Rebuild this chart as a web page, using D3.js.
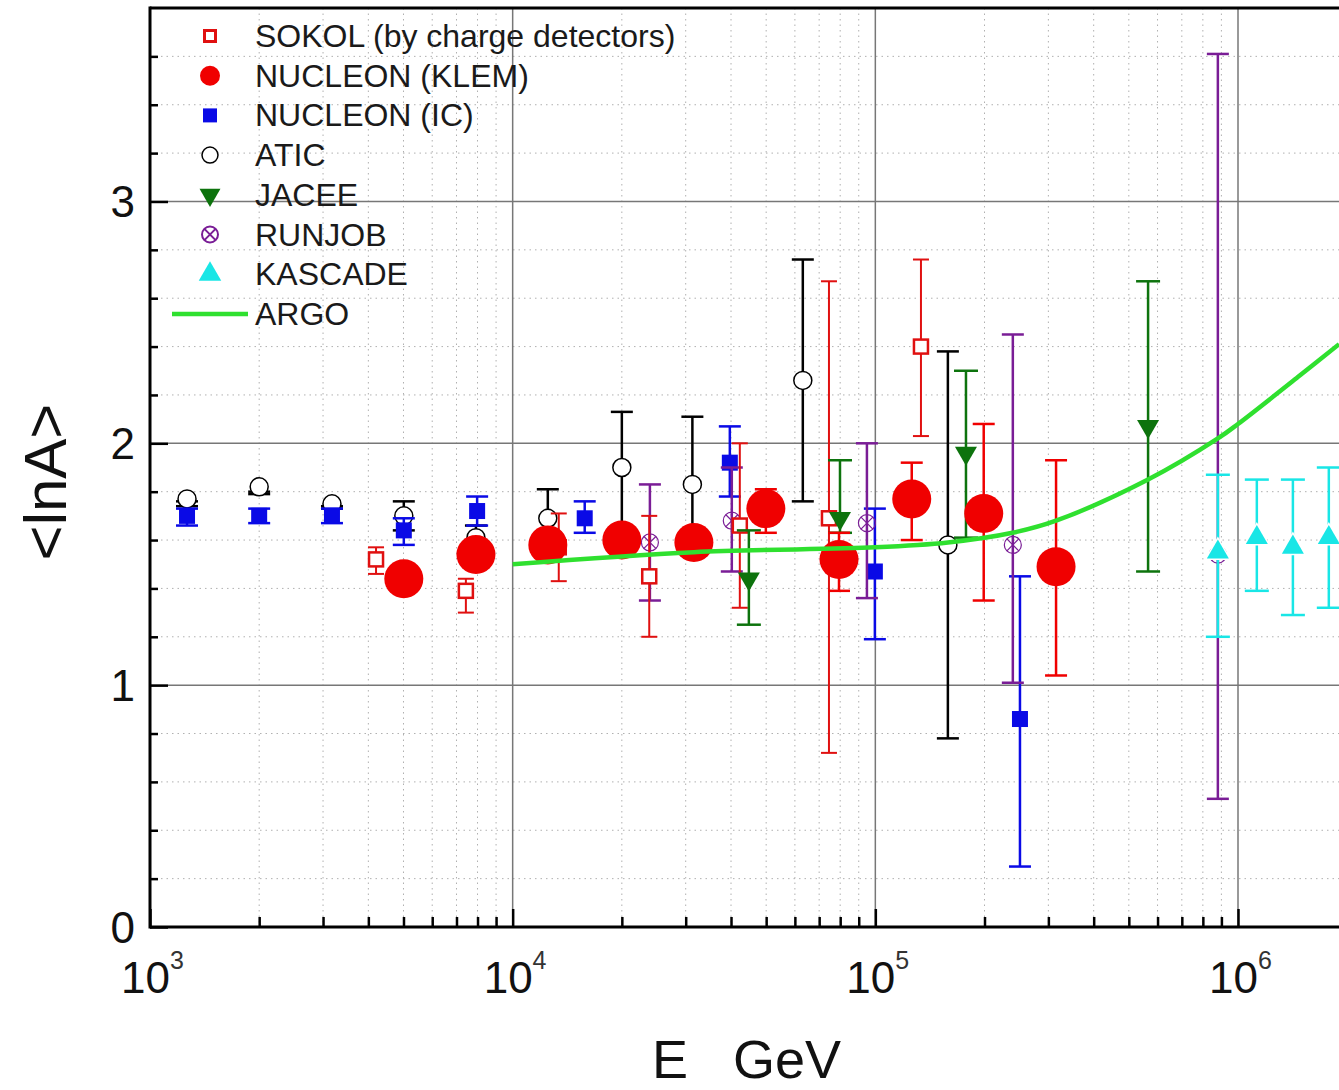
<!DOCTYPE html>
<html>
<head>
<meta charset="utf-8">
<script src="https://cdn.jsdelivr.net/npm/d3@7"></script>
<style>
  body { margin: 0; background: #fff; }
  svg { display: block; font-family: "Liberation Sans", Arial, sans-serif; }
</style>
</head>
<body>
<svg width="1339" height="1090"></svg>
<script>
// ---- data (E in GeV, <lnA>, lower, upper) ----
var sokolE  = [4200, 7430, 13400, 23800, 42300, 74500, 133600];
var sokolA  = [1.52, 1.39, 1.57, 1.45, 1.66, 1.69, 2.40];
var sokolLo = [1.46, 1.30, 1.43, 1.20, 1.32, 0.72, 2.03];
var sokolHi = [1.57, 1.44, 1.71, 1.70, 2.00, 2.67, 2.76];

var klemE  = [5010, 7920, 12500, 20000, 31600, 49900, 79400, 126000, 199000, 315000];
var klemA  = [1.44, 1.54, 1.58, 1.60, 1.59, 1.73, 1.52, 1.77, 1.71, 1.49];
var klemLo = [1.40, 1.50, 1.54, 1.56, 1.55, 1.63, 1.39, 1.60, 1.35, 1.04];
var klemHi = [1.48, 1.58, 1.62, 1.64, 1.63, 1.81, 1.63, 1.92, 2.08, 1.93];

var icE  = [1265, 2000, 3175, 5010, 7980, 15800, 39700, 99700, 250500];
var icA  = [1.70, 1.70, 1.70, 1.64, 1.72, 1.69, 1.92, 1.47, 0.86];
var icLo = [1.66, 1.67, 1.67, 1.58, 1.66, 1.63, 1.78, 1.19, 0.25];
var icHi = [1.73, 1.73, 1.73, 1.69, 1.78, 1.76, 2.07, 1.73, 1.45];

var aticE  = [1265, 2000, 3175, 5010, 7920, 12500, 20000, 31300, 63100, 158500];
var aticA  = [1.77, 1.82, 1.75, 1.70, 1.61, 1.69, 1.90, 1.83, 2.26, 1.58];
var aticLo = [1.74, 1.79, 1.73, 1.64, 1.56, 1.60, 1.62, 1.60, 1.76, 0.78];
var aticHi = [1.76, 1.80, 1.74, 1.76, 1.66, 1.81, 2.13, 2.11, 2.76, 2.38];

var jaceeE  = [44800, 79900, 177800, 565000];
var jaceeA  = [1.44, 1.69, 1.96, 2.07];
var jaceeLo = [1.25, 1.63, 1.61, 1.47];
var jaceeHi = [1.64, 1.93, 2.30, 2.67];

var runjobE  = [23900, 40200, 94800, 239400, 880000];
var runjobA  = [1.59, 1.68, 1.67, 1.58, 1.54];
var runjobLo = [1.35, 1.47, 1.36, 1.01, 0.53];
var runjobHi = [1.83, 1.90, 2.00, 2.45, 3.61];

var kascadeE  = [880000, 1127000, 1417000, 1780000];
var kascadeA  = [1.55, 1.61, 1.57, 1.61];
var kascadeLo = [1.20, 1.39, 1.29, 1.32];
var kascadeHi = [1.87, 1.85, 1.85, 1.90];

var argoE = [10000, 31600, 100000, 158500, 239000, 315000, 565000, 880000, 1000000, 1480000, 1900000];
var argoA = [1.50, 1.55, 1.57, 1.59, 1.63, 1.68, 1.85, 2.02, 2.08, 2.28, 2.41];

var yTicks = [0, 1, 2, 3];
var xDecades = [1e3, 1e4, 1e5, 1e6];
var xExp = ["3", "4", "5", "6"];

var legendNames = ["SOKOL (by charge detectors)", "NUCLEON (KLEM)", "NUCLEON (IC)", "ATIC",
                   "JACEE", "RUNJOB", "KASCADE", "ARGO"];

// ---- setup ----
var svg = d3.select("svg");
var padL = 150, padT = 8, padB = 927, padR = 1339;

var x = d3.scaleLog().domain([1e3, 1e6]).range([padL, 1238]);
var y = d3.scaleLinear().domain([0, 3.8]).range([padB, padT]);

var RED = "#f00000", BLUE = "#0a0ae6", BLACK = "#000", DGREEN = "#0d730d",
    PURPLE = "#7a1d96", CYAN = "#19e6e6", LGREEN = "#2fe02f";

// gridlines
var grid = svg.append("g");
var xMinor = x.ticks().filter(function(d) { return xDecades.indexOf(d) < 0; });
var yMinor = d3.range(1, 19).map(function(i) { return i * 0.2; }).filter(function(d) { return Math.abs(d - Math.round(d)) > 0.01; });

grid.selectAll(".vminor").data(xMinor).enter().append("line")
  .attr("x1", function(d) { return x(d); }).attr("x2", function(d) { return x(d); })
  .attr("y1", padT).attr("y2", padB)
  .attr("stroke", "#b0b0b0").attr("stroke-width", 1).attr("stroke-dasharray", "1.5,4");
grid.selectAll(".hminor").data(yMinor).enter().append("line")
  .attr("x1", padL).attr("x2", padR)
  .attr("y1", function(d) { return y(d); }).attr("y2", function(d) { return y(d); })
  .attr("stroke", "#b0b0b0").attr("stroke-width", 1).attr("stroke-dasharray", "1.5,4");
grid.selectAll(".vmajor").data(xDecades.slice(1)).enter().append("line")
  .attr("x1", function(d) { return x(d); }).attr("x2", function(d) { return x(d); })
  .attr("y1", padT).attr("y2", padB)
  .attr("stroke", "#777").attr("stroke-width", 1.5);
grid.selectAll(".hmajor").data(yTicks.slice(1)).enter().append("line")
  .attr("x1", padL).attr("x2", padR)
  .attr("y1", function(d) { return y(d); }).attr("y2", function(d) { return y(d); })
  .attr("stroke", "#777").attr("stroke-width", 1.5);

// axes (ticks pointing inward)
var xAxisMinor = d3.axisBottom(x).tickValues(xMinor).tickSize(-10).tickFormat("");
var xAxisMajor = d3.axisBottom(x).tickValues(xDecades).tickSize(-18).tickFormat("");
var yAxisMinor = d3.axisLeft(y).tickValues(yMinor).tickSize(-8).tickFormat("");
var yAxisMajor = d3.axisLeft(y).tickValues(yTicks).tickSize(-18).tickFormat("");

[xAxisMinor, xAxisMajor].forEach(function(ax) {
  svg.append("g").attr("transform", "translate(0," + padB + ")").call(ax)
    .call(function(g) { g.select(".domain").remove(); g.selectAll("line").attr("stroke-width", 2.5); });
});
[yAxisMinor, yAxisMajor].forEach(function(ax) {
  svg.append("g").attr("transform", "translate(" + padL + ",0)").call(ax)
    .call(function(g) { g.select(".domain").remove(); g.selectAll("line").attr("stroke-width", 2.5); });
});

// frame
svg.append("line").attr("x1", padL).attr("x2", padR).attr("y1", padB).attr("y2", padB)
  .attr("stroke", "#000").attr("stroke-width", 3);
svg.append("line").attr("x1", padL).attr("x2", padR).attr("y1", padT).attr("y2", padT)
  .attr("stroke", "#000").attr("stroke-width", 3);
svg.append("line").attr("x1", padL).attr("x2", padL).attr("y1", padT - 1.5).attr("y2", padB + 1.5)
  .attr("stroke", "#000").attr("stroke-width", 3);

// tick labels
svg.selectAll(".ylab").data(yTicks).enter().append("text")
  .attr("x", 135).attr("y", function(d) { return y(d) + 16; })
  .attr("text-anchor", "end").attr("font-size", 44).attr("fill", "#111")
  .text(function(d) { return d; });

var xl = svg.selectAll(".xlab").data(xDecades).enter().append("text")
  .attr("x", function(d) { return x(d) - 29; }).attr("y", 993)
  .attr("font-size", 44).attr("fill", "#111");
xl.append("tspan").text("10");
xl.append("tspan").attr("dy", -24).attr("font-size", 25).attr("fill", "#333")
  .text(function(d, i) { return xExp[i]; });

// axis titles
svg.append("text").attr("x", 652).attr("y", 1078).attr("font-size", 54).attr("fill", "#111")
  .attr("xml:space", "preserve").text("E   GeV");
svg.append("text").attr("transform", "translate(66,482) rotate(-90)")
  .attr("text-anchor", "middle").attr("font-size", 60).attr("fill", "#111").text("<lnA>");

// ---- error bars + markers ----
function series(E, A, lo, hi) {
  return E.map(function(e, i) { return { e: e, a: A[i], lo: lo[i], hi: hi[i] }; });
}

function errBars(data, color, cap, w) {
  var g = svg.append("g").attr("stroke", color).attr("stroke-width", w);
  data.forEach(function(d) {
    g.append("line").attr("x1", x(d.e)).attr("x2", x(d.e)).attr("y1", y(d.lo)).attr("y2", y(d.hi));
    g.append("line").attr("x1", x(d.e) - cap).attr("x2", x(d.e) + cap).attr("y1", y(d.lo)).attr("y2", y(d.lo));
    g.append("line").attr("x1", x(d.e) - cap).attr("x2", x(d.e) + cap).attr("y1", y(d.hi)).attr("y2", y(d.hi));
  });
}

function runjobMark(g, cx, cy, r, w) {
  g.append("circle").attr("cx", cx).attr("cy", cy).attr("r", r)
    .attr("fill", "none").attr("stroke", PURPLE).attr("stroke-width", w);
  var k = r * 0.7;
  g.append("line").attr("x1", cx - k).attr("x2", cx + k).attr("y1", cy - k).attr("y2", cy + k)
    .attr("stroke", PURPLE).attr("stroke-width", w);
  g.append("line").attr("x1", cx - k).attr("x2", cx + k).attr("y1", cy + k).attr("y2", cy - k)
    .attr("stroke", PURPLE).attr("stroke-width", w);
}

var sokol = series(sokolE, sokolA, sokolLo, sokolHi);
var klem = series(klemE, klemA, klemLo, klemHi);
var ic = series(icE, icA, icLo, icHi);
var atic = series(aticE, aticA, aticLo, aticHi);
var jacee = series(jaceeE, jaceeA, jaceeLo, jaceeHi);
var runjob = series(runjobE, runjobA, runjobLo, runjobHi);
var kascade = series(kascadeE, kascadeA, kascadeLo, kascadeHi);

var triUp = d3.symbol(d3.symbolTriangle, 210);

// ATIC
errBars(atic, BLACK, 11, 2.5);
svg.append("g").selectAll("circle").data(atic).enter().append("circle")
  .attr("cx", function(d) { return x(d.e); }).attr("cy", function(d) { return y(d.a); })
  .attr("r", 9).attr("fill", "#fff").attr("stroke", "#000").attr("stroke-width", 1.5);

// NUCLEON IC
errBars(ic, BLUE, 11, 2.5);
svg.append("g").selectAll("rect").data(ic).enter().append("rect")
  .attr("x", function(d) { return x(d.e) - 8; }).attr("y", function(d) { return y(d.a) - 8; })
  .attr("width", 16).attr("height", 16).attr("fill", BLUE);

// RUNJOB
errBars(runjob, PURPLE, 11, 2.5);
var rg = svg.append("g");
runjob.forEach(function(d) { runjobMark(rg, x(d.e), y(d.a), 8.5, 1.2); });

// SOKOL
errBars(sokol, "#e01010", 8, 2);
svg.append("g").selectAll("rect").data(sokol).enter().append("rect")
  .attr("x", function(d) { return x(d.e) - 7; }).attr("y", function(d) { return y(d.a) - 7; })
  .attr("width", 14).attr("height", 14).attr("fill", "#fff").attr("stroke", "#e01010").attr("stroke-width", 2.5);

// JACEE
errBars(jacee, DGREEN, 12, 2.5);
svg.append("g").selectAll("path").data(jacee).enter().append("path")
  .attr("d", triUp)
  .attr("transform", function(d) { return "translate(" + x(d.e) + "," + y(d.a) + ") rotate(180)"; })
  .attr("fill", DGREEN);

// KASCADE
errBars(kascade, CYAN, 12, 2.5);
svg.append("g").selectAll("path").data(kascade).enter().append("path")
  .attr("d", triUp)
  .attr("transform", function(d) { return "translate(" + x(d.e) + "," + y(d.a) + ")"; })
  .attr("fill", CYAN).attr("stroke", "#fff").attr("stroke-width", 3).attr("paint-order", "stroke");

// NUCLEON KLEM
errBars(klem, RED, 11, 2.5);
svg.append("g").selectAll("circle").data(klem).enter().append("circle")
  .attr("cx", function(d) { return x(d.e); }).attr("cy", function(d) { return y(d.a); })
  .attr("r", 19.5).attr("fill", RED);

// ARGO
var argo = argoE.map(function(e, i) { return [e, argoA[i]]; });
svg.append("path").datum(argo)
  .attr("d", d3.line().x(function(d) { return x(d[0]); }).y(function(d) { return y(d[1]); }).curve(d3.curveCatmullRom))
  .attr("fill", "none").attr("stroke", LGREEN).attr("stroke-width", 4.5);

// ---- legend ----
var lg = svg.append("g");
var rowY = function(i) { return 36 + i * 39.7; };
legendNames.forEach(function(name, i) {
  lg.append("text").attr("x", 255).attr("y", rowY(i) + 11).attr("font-size", 32).attr("fill", "#1a1a1a").text(name);
});
var mx = 210;
lg.append("rect").attr("x", mx - 5.5).attr("y", rowY(0) - 5.5).attr("width", 11).attr("height", 11)
  .attr("fill", "#fff").attr("stroke", "#e01010").attr("stroke-width", 3);
lg.append("circle").attr("cx", mx).attr("cy", rowY(1)).attr("r", 10).attr("fill", RED);
lg.append("rect").attr("x", mx - 7).attr("y", rowY(2) - 7).attr("width", 14).attr("height", 14).attr("fill", BLUE);
lg.append("circle").attr("cx", mx).attr("cy", rowY(3)).attr("r", 8).attr("fill", "#fff").attr("stroke", "#000").attr("stroke-width", 1.5);
lg.append("path").attr("d", d3.symbol(d3.symbolTriangle, 190)).attr("fill", DGREEN)
  .attr("transform", "translate(" + mx + "," + rowY(4) + ") rotate(180)");
runjobMark(lg, mx, rowY(5), 8, 2);
lg.append("path").attr("d", d3.symbol(d3.symbolTriangle, 220)).attr("fill", CYAN)
  .attr("transform", "translate(" + mx + "," + rowY(6) + ")");
lg.append("line").attr("x1", 172).attr("x2", 248).attr("y1", rowY(7)).attr("y2", rowY(7))
  .attr("stroke", LGREEN).attr("stroke-width", 4.5);
</script>
</body>
</html>
